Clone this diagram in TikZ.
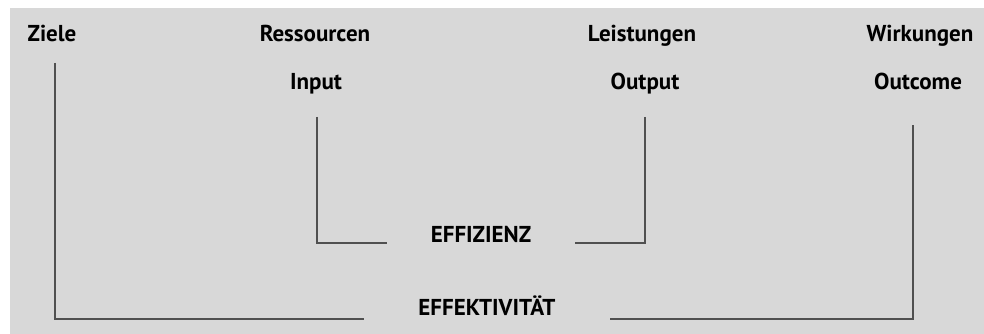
\documentclass[tikz,border=0pt]{standalone}
\usepackage{fontspec}
\setmainfont{PT Sans}
\definecolor{bggray}{HTML}{D8D8D8}
\definecolor{linegray}{HTML}{505050}
\tikzset{
  term/.style={anchor=base,font=\bfseries\fontsize{23}{26}\selectfont,inner sep=0pt},
  measure/.style={term},
  bracket/.style={draw=linegray,line width=2.4pt,line cap=butt}
}

\begin{document}
\begin{tikzpicture}[x=1pt,y=-1pt]
  \useasboundingbox (0,0) rectangle (984,334);
  \fill[bggray] (10,8) rectangle (984,334);

  \node[term] (ziele) at (52,42) {Ziele};
  \node[term] (ressourcen) at (315,42) {Ressourcen};
  \node[term] (leistungen) at (642,42) {Leistungen};
  \node[term] (wirkungen) at (920,42) {Wirkungen};

  \node[term] (input) at (316,90) {Input};
  \node[term] (output) at (645,90) {Output};
  \node[term] (outcome) at (918,90) {Outcome};

  \node[measure,minimum width=188pt] (effizienz) at (481,242) {EFFIZIENZ};
  \node[measure,minimum width=245pt] (effektivitaet) at (487,315) {EFFEKTIVITÄT};

  \coordinate (zielefoot) at (55,63);
  \coordinate (inputfoot) at (317,117);
  \coordinate (outputfoot) at (645,117);
  \coordinate (outcomefoot) at (913,125);

  \draw[bracket] (zielefoot) |- ([yshift=-4pt]effektivitaet.base west);
  \draw[bracket] (outcomefoot) |- ([yshift=-4pt]effektivitaet.base east);
  \draw[bracket] (inputfoot) |- ([yshift=-1pt]effizienz.base west);
  \draw[bracket] (outputfoot) |- ([yshift=-1pt]effizienz.base east);
\end{tikzpicture}
\end{document}
